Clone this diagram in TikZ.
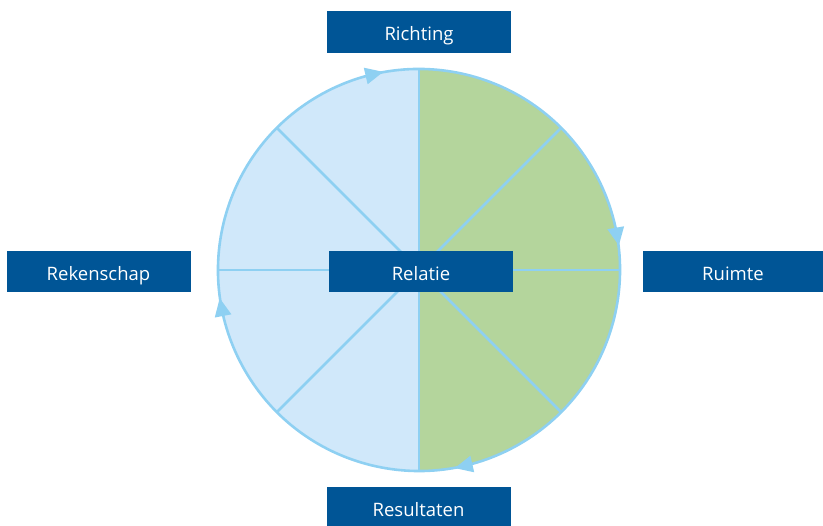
\documentclass[tikz,border=0pt]{standalone}
\usepackage{fontspec}
\setmainfont{Open Sans}
\usetikzlibrary{decorations.markings}

\definecolor{boxblue}{RGB}{0,85,150}
\definecolor{paleblue}{RGB}{208,232,250}
\definecolor{palegreen}{RGB}{180,213,156}
\definecolor{lineblue}{RGB}{142,208,242}

\newcommand{\rimtip}{\fill[lineblue] (10pt,0pt) -- (-8pt,8.5pt) -- (-8pt,-8.5pt) -- cycle;}

\begin{document}
\begin{tikzpicture}[x=1pt, y=1pt,
	label box/.style={fill=boxblue, text=white, minimum width=184pt, minimum height=42pt, inner sep=0pt, text height=18pt, text depth=0pt, font=\fontsize{18.5}{22}\selectfont},
	spoke/.style={lineblue, line width=2.6pt},
	rim/.style={lineblue, line width=2.6pt}]
	\useasboundingbox (0,0) rectangle (823,526);
	
	\coordinate (c) at (419,256);
	
	% two halves of the wheel
	\fill[paleblue] (c) -- ++(90:201pt) arc[start angle=90, end angle=270, radius=201pt] -- cycle;
	\fill[palegreen] (c) -- ++(90:201pt) arc[start angle=90, end angle=-90, radius=201pt] -- cycle;
	
	\foreach \a in {0,45,...,315}
		\draw[spoke] (c) -- +(\a:201pt);
	
	% rim, running clockwise
	\draw[rim, postaction={decorate}, decoration={markings,
		mark=at position 0.047 with {\rimtip},
		mark=at position 0.306 with {\rimtip},
		mark=at position 0.547 with {\rimtip},
		mark=at position 0.803 with {\rimtip}}]
		(c) ++(120:201pt) arc[start angle=120, end angle=-240, radius=201pt];
	
	\node[label box, minimum height=41pt] (relatie) at (421,254.5) {Relatie};
	\node[label box] (richting) at (419,494) {Richting};
	\node[label box] (resultaten) at (418.5,18) {Resultaten};
	\node[label box, minimum height=41pt] (rekenschap) at (98.5,254.5) {Rekenschap};
	\node[label box, minimum width=180pt, minimum height=41pt] (ruimte) at (733,254.5) {Ruimte};
\end{tikzpicture}
\end{document}
